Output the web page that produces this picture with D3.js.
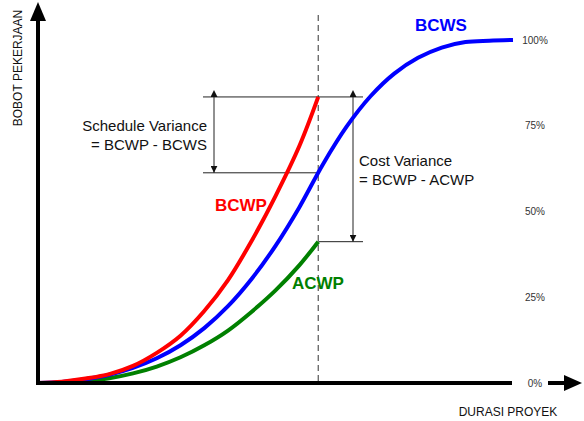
<!DOCTYPE html>
<html>
<head>
<meta charset="utf-8">
<script src="https://cdn.jsdelivr.net/npm/d3@7"></script>
<style>
  body { margin: 0; background: #fff; }
  svg { display: block; font-family: Arial, 'Liberation Sans', sans-serif; }
</style>
</head>
<body>
<div id="chart"></div>
<script>
// time in % of project duration, weight in %
const planTime = [0, 5, 10, 15, 20, 25, 30, 35, 40, 45, 50, 55, 60, 65, 70, 75, 80, 85, 90, 95, 100];
const bcws = [0, 0.3, 1.1, 2.4, 4.4, 7.2, 11, 16, 22.4, 30.4, 40, 51.2, 63.8, 74.8, 83.6, 90.2, 94.8, 97.8, 99.4, 99.8, 100];
const actualTime = [0, 5, 10, 15, 20, 25, 30, 35, 40, 45, 50, 55, 59];
const bcwp = [0, 0.4, 1.3, 2.6, 5, 8.8, 13.8, 21, 30, 41.5, 54.5, 69, 83.4];
const acwp = [0, 0.1, 0.5, 1.4, 2.8, 4.8, 7.5, 11, 15.3, 20.8, 27, 34.3, 41.2];
const statusTime = 59;
const yTicks = [0, 25, 50, 75, 100];

const W = 584, H = 421;
const x = d3.scaleLinear().domain([0, 100]).range([38, 513]);
const y = d3.scaleLinear().domain([0, 100]).range([383, 40]);
const bcwsAt = d3.scaleLinear().domain(planTime).range(bcws);

const svg = d3.select('#chart').append('svg')
  .attr('width', W).attr('height', H);

const defs = svg.append('defs');
['start', 'end'].forEach((k) => {
  defs.append('marker')
    .attr('id', 'arr-' + k)
    .attr('viewBox', '0 0 10 10')
    .attr('refX', k === 'end' ? 10 : 0).attr('refY', 5)
    .attr('markerWidth', 7).attr('markerHeight', 7)
    .attr('markerUnits', 'userSpaceOnUse')
    .attr('orient', 'auto-start-reverse')
    .append('path').attr('d', 'M0,0L10,5L0,10z').attr('fill', '#111');
});

const line = (xs) => d3.line()
  .x((d, i) => x(xs[i]))
  .y((d) => y(d))
  .curve(d3.curveCatmullRom.alpha(0.5));

// status date dashed line
const sx = x(statusTime);
svg.append('line')
  .attr('x1', sx).attr('x2', sx).attr('y1', 15).attr('y2', y(0))
  .attr('stroke', '#555').attr('stroke-width', 1.2).attr('stroke-dasharray', '6,4');

// variance guides
const yP = y(bcwp[bcwp.length - 1]);
const yS = y(bcwsAt(statusTime));
const yA = y(acwp[acwp.length - 1]);
const g = svg.append('g').attr('stroke', '#222').attr('stroke-width', 1);
g.append('line').attr('x1', 203).attr('x2', 363).attr('y1', yP).attr('y2', yP);
g.append('line').attr('x1', 203).attr('x2', sx).attr('y1', yS).attr('y2', yS);
g.append('line').attr('x1', sx).attr('x2', 363).attr('y1', yA).attr('y2', yA);
g.append('line').attr('x1', 214).attr('x2', 214).attr('y1', yP).attr('y2', yS)
  .attr('marker-start', 'url(#arr-start)').attr('marker-end', 'url(#arr-end)');
g.append('line').attr('x1', 353).attr('x2', 353).attr('y1', yP).attr('y2', yA)
  .attr('marker-start', 'url(#arr-start)').attr('marker-end', 'url(#arr-end)');

// curves
svg.append('path').datum(acwp).attr('d', line(actualTime))
  .attr('fill', 'none').attr('stroke', '#008000').attr('stroke-width', 4);
svg.append('path').datum(bcws).attr('d', line(planTime))
  .attr('fill', 'none').attr('stroke', '#0000ff').attr('stroke-width', 4);
svg.append('path').datum(bcwp).attr('d', line(actualTime))
  .attr('fill', 'none').attr('stroke', '#ff0000').attr('stroke-width', 4);

// axes
svg.append('line').attr('x1', x(0)).attr('x2', x(0)).attr('y1', y(0) + 2).attr('y2', 18)
  .attr('stroke', '#000').attr('stroke-width', 4);
svg.append('path').attr('d', `M${x(0)},2L${x(0) - 8},21L${x(0) + 8},21z`).attr('fill', '#000');
svg.append('line').attr('x1', x(0) - 2).attr('x2', 512).attr('y1', y(0)).attr('y2', y(0))
  .attr('stroke', '#000').attr('stroke-width', 4);
svg.append('line').attr('x1', 548).attr('x2', 566).attr('y1', y(0)).attr('y2', y(0))
  .attr('stroke', '#000').attr('stroke-width', 4);
svg.append('path').attr('d', `M582,${y(0)}L564,${y(0) - 8}L564,${y(0) + 8}z`).attr('fill', '#000');

// tick labels
svg.append('g').selectAll('text').data(yTicks).enter().append('text')
  .attr('x', 535).attr('y', (d) => y(d)).attr('dy', '0.35em')
  .attr('text-anchor', 'middle').attr('font-size', 10).attr('fill', '#333')
  .text((d) => d + '%');

// axis titles
svg.append('text').attr('transform', 'translate(22,68) rotate(-90)')
  .attr('text-anchor', 'middle').attr('font-size', 12).attr('fill', '#111')
  .text('BOBOT PEKERJAAN');
svg.append('text').attr('x', 508).attr('y', 416)
  .attr('text-anchor', 'middle').attr('font-size', 12).attr('fill', '#111')
  .text('DURASI PROYEK');

// series labels
const lab = (t, xx, yy, c) => svg.append('text').attr('x', xx).attr('y', yy)
  .attr('text-anchor', 'middle').attr('font-size', 17).attr('font-weight', 'bold')
  .attr('fill', c).text(t);
lab('BCWS', 441, 31, '#0000ff');
lab('BCWP', 241, 211, '#ff0000');
lab('ACWP', 318, 289, '#008000');

// variance text
const vt = (lines, xx, yy, anchor) => {
  const t = svg.append('text').attr('font-size', 15).attr('fill', '#111')
    .attr('text-anchor', anchor);
  lines.forEach((s, i) => t.append('tspan').attr('x', xx).attr('y', yy + i * 19).text(s));
};
vt(['Schedule Variance', '= BCWP - BCWS'], 207, 131, 'end');
vt(['Cost Variance', '= BCWP - ACWP'], 359, 166, 'start');
</script>
</body>
</html>
